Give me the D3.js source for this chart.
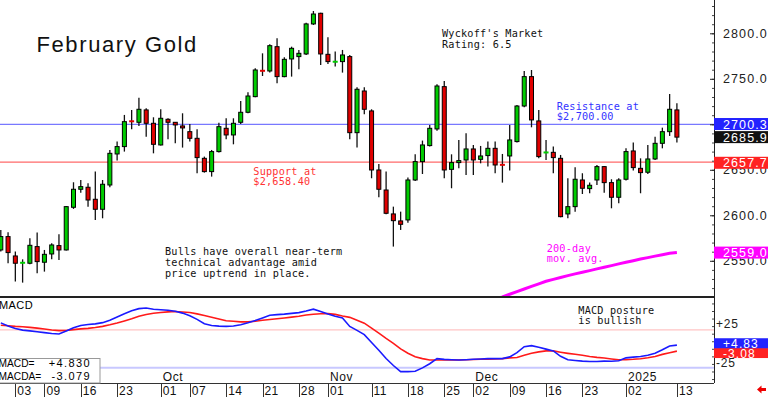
<!DOCTYPE html>
<html><head><meta charset="utf-8">
<script src="https://cdn.jsdelivr.net/npm/d3@7"></script>
<style>
html,body{margin:0;padding:0;background:#fff;}
svg{display:block;}
</style></head><body>
<svg id="c" width="768" height="397"></svg>
<script>
// ---------- DATA ----------
const dates = ["Aug 29","Aug 30","Sep 3","Sep 4","Sep 5","Sep 6","Sep 9","Sep 10","Sep 11","Sep 12","Sep 13","Sep 16","Sep 17","Sep 18","Sep 19","Sep 20","Sep 23","Sep 24","Sep 25","Sep 26","Sep 27","Sep 30","Oct 1","Oct 2","Oct 3","Oct 4","Oct 7","Oct 8","Oct 9","Oct 10","Oct 11","Oct 14","Oct 15","Oct 16","Oct 17","Oct 18","Oct 21","Oct 22","Oct 23","Oct 24","Oct 25","Oct 28","Oct 29","Oct 30","Oct 31","Nov 1","Nov 4","Nov 5","Nov 6","Nov 7","Nov 8","Nov 11","Nov 12","Nov 13","Nov 14","Nov 15","Nov 18","Nov 19","Nov 20","Nov 21","Nov 22","Nov 25","Nov 26","Nov 27","Nov 29","Dec 2","Dec 3","Dec 4","Dec 5","Dec 6","Dec 9","Dec 10","Dec 11","Dec 12","Dec 13","Dec 16","Dec 17","Dec 18","Dec 19","Dec 20","Dec 23","Dec 24","Dec 26","Dec 27","Dec 30","Dec 31","Jan 2","Jan 3","Jan 6","Jan 7","Jan 8","Jan 9","Jan 10","Jan 13"];

const open  = [2561.9,2576.6,2555.3,2547.6,2547.3,2565.6,2548.4,2557.5,2566.7,2561.9,2608.8,2628.6,2630.8,2617.6,2606.6,2633.3,2667.4,2675.5,2704.0,2702.2,2715.8,2701.1,2677.3,2705.5,2702.2,2698.2,2691.9,2684.6,2662.6,2648.0,2670.0,2695.6,2688.3,2702.2,2713.2,2730.4,2759.0,2758.6,2785.3,2752.4,2771.8,2774.4,2777.3,2810.3,2822.0,2776.9,2768.5,2768.9,2774.4,2690.8,2736.6,2714.7,2649.8,2627.8,2601.5,2593.8,2594.9,2638.8,2659.0,2676.6,2694.9,2741.4,2650.5,2657.9,2660.8,2672.9,2661.5,2665.6,2673.6,2655.6,2665.2,2681.0,2720.1,2752.4,2703.7,2668.1,2669.2,2662.6,2601.5,2609.5,2638.8,2629.3,2638.8,2653.5,2635.9,2619.8,2639.6,2670.7,2651.6,2647.3,2661.9,2679.1,2691.9,2715.8];
const high  = [2583.9,2581.3,2560.1,2551.6,2574.7,2581.0,2561.9,2569.2,2579.1,2610.3,2636.3,2638.8,2635.2,2648.0,2638.8,2671.8,2681.0,2710.3,2715.8,2729.3,2717.6,2707.7,2716.5,2706.6,2702.6,2712.1,2700.4,2694.5,2664.5,2671.8,2701.8,2706.6,2706.6,2725.6,2735.2,2761.5,2778.0,2787.9,2794.5,2773.6,2785.3,2781.7,2811.7,2824.5,2822.7,2795.6,2779.9,2781.7,2776.2,2740.7,2740.7,2716.5,2656.4,2648.0,2609.5,2604.0,2641.4,2667.0,2682.1,2699.3,2744.0,2747.6,2667.0,2682.8,2690.1,2677.3,2676.2,2681.0,2681.0,2667.4,2699.3,2721.2,2758.6,2759.7,2715.8,2682.8,2675.5,2666.3,2640.7,2652.7,2646.2,2635.9,2655.3,2654.2,2639.6,2640.7,2673.6,2679.9,2662.6,2677.3,2686.4,2696.3,2733.3,2723.1];
const low   = [2560.1,2547.3,2527.1,2526.0,2546.2,2536.3,2538.1,2551.6,2550.9,2561.2,2607.0,2624.9,2609.5,2594.9,2596.7,2630.8,2660.1,2670.0,2694.5,2698.2,2686.4,2668.1,2676.6,2683.5,2679.1,2674.4,2681.0,2646.2,2646.9,2642.5,2668.9,2683.5,2678.0,2700.4,2712.1,2729.7,2753.1,2756.8,2745.1,2751.6,2752.4,2760.4,2776.2,2809.2,2765.2,2766.3,2763.4,2756.8,2683.5,2674.4,2711.0,2640.7,2619.8,2601.1,2565.6,2583.9,2591.9,2637.7,2645.4,2675.5,2693.0,2640.7,2629.7,2651.6,2644.3,2644.3,2657.1,2653.5,2646.2,2635.9,2649.1,2679.9,2718.7,2696.7,2662.6,2660.8,2646.2,2597.8,2596.7,2604.0,2623.4,2624.2,2633.3,2624.9,2607.7,2613.2,2638.1,2649.1,2624.2,2645.4,2660.8,2673.6,2687.2,2679.9];
const close = [2576.6,2559.0,2547.3,2548.0,2567.0,2549.1,2557.1,2567.4,2561.9,2609.5,2628.6,2631.5,2616.8,2606.6,2634.1,2668.1,2675.5,2702.9,2702.6,2716.5,2701.1,2678.0,2706.6,2702.2,2699.3,2696.0,2684.6,2663.4,2648.0,2670.0,2697.4,2688.3,2701.1,2713.2,2731.1,2759.7,2758.6,2786.4,2752.4,2771.4,2783.5,2778.0,2810.3,2821.2,2777.3,2768.9,2769.0,2776.2,2690.8,2738.5,2716.5,2649.8,2628.6,2602.2,2594.1,2590.1,2638.8,2659.0,2677.3,2695.6,2742.1,2649.8,2657.9,2660.1,2672.9,2660.8,2665.2,2673.6,2655.3,2655.3,2682.8,2720.1,2752.4,2704.8,2664.5,2670.0,2663.4,2598.5,2609.5,2639.6,2629.7,2633.0,2653.5,2635.9,2619.8,2638.8,2670.0,2652.4,2646.9,2661.9,2679.1,2691.9,2716.5,2685.9];

// 200-day moving average, aligned with the last dates
const ma200 = [2507.9,2510.3,2513.2,2516.2,2519.0,2521.9,2524.7,2527.5,2529.6,2531.7,2533.7,2535.6,2537.4,2539.2,2541.1,2542.9,2544.7,2546.6,2548.4,2550.1,2551.9,2553.5,2555.1,2556.6,2558.2,2559.0];

const macd = [34.3,30.2,26.9,24.7,23.7,22.5,21.4,20.2,19.6,23.5,27.7,30.8,32.1,33.0,34.6,37.8,42.0,46.3,50.2,53.1,54.0,52.4,51.7,50.9,49.6,47.2,43.8,38.9,33.1,30.9,30.0,29.6,30.2,31.9,34.4,37.3,40.8,44.3,45.2,45.9,46.9,47.9,50.0,52.4,49.2,45.9,43.0,40.8,29.6,24.4,18.7,8.4,-1.9,-12.9,-22.1,-30.2,-30.2,-29.8,-25.2,-19.8,-13.0,-14.0,-14.5,-14.8,-14.4,-13.9,-13.4,-13.0,-13.0,-13.0,-10.7,-5.1,2.8,4.2,2.0,-0.4,-2.8,-9.9,-14.5,-15.5,-16.3,-16.8,-16.8,-16.3,-16.5,-15.9,-12.0,-11.0,-10.2,-8.5,-5.9,-1.3,3.6,4.83];
const macdSignal = [31.1,30.4,29.6,29.1,28.4,27.4,26.1,24.8,24.1,24.2,25.4,26.3,27.0,28.2,29.7,31.7,34.0,36.9,39.7,43.1,45.3,47.1,48.1,48.9,49.3,48.7,48.1,46.2,44.1,41.7,39.3,37.0,36.5,35.6,35.6,36.5,37.8,38.7,39.7,40.8,41.9,43.1,44.8,45.8,46.3,46.5,45.5,43.3,41.6,37.9,33.9,27.3,20.8,13.7,7.1,-0.2,-5.9,-10.6,-13.0,-14.8,-14.8,-14.8,-14.8,-14.8,-14.5,-14.2,-13.8,-13.6,-13.3,-13.0,-12.0,-11.5,-8.6,-5.9,-4.1,-2.8,-2.8,-4.5,-6.0,-7.3,-8.6,-10.1,-11.3,-12.2,-13.4,-14.5,-14.4,-13.9,-13.1,-11.8,-10.1,-7.4,-5.1,-3.079];

const priceTicks = [2550,2600,2650,2700,2750,2800];
const macdTicks = [25,-25];
const macdTickLabels = ["+25","-25"];
const dayTicks = ["Sep 3","Sep 9","Sep 16","Sep 23","Oct 1","Oct 7","Oct 14","Oct 21","Oct 28","Nov 1","Nov 11","Nov 18","Nov 25","Dec 2","Dec 9","Dec 16","Dec 23","Jan 2","Jan 13"];
const monthTicks = ["Oct 1","Nov 1","Dec 2","Jan 2"];
const monthLabels = ["Oct","Nov","Dec","2025"];

const resistance = 2700.00;
const support = 2658.40;
const priceBoxValues = [2700.3, 2685.9, 2657.7, 2559.0];
const macdBoxValues = [-3.079, 4.830];

// ---------- DRAW ----------
const svg = d3.select("#c");
const W = 768, AX = 714;
const mainTop = 0, mainBot = 297, macdTop = 299, macdBot = 383;

const x = d3.scalePoint().domain(dates).range([0.8, 676.9]);
const y = d3.scaleLinear().domain([2510.2, 2836.6]).range([mainBot, mainTop]);
const my = d3.scaleLinear().domain([-25, 25]).range([367.7, 329.9]);

const defs = svg.append("defs");
defs.append("clipPath").attr("id","clipMain").append("rect").attr("x",0).attr("y",0).attr("width",AX).attr("height",mainBot);
defs.append("clipPath").attr("id","clipMacd").append("rect").attr("x",0).attr("y",macdTop).attr("width",AX).attr("height",macdBot-macdTop);

const monoFont = "'DejaVu Sans Mono', monospace";
const sansFont = "'Liberation Sans', Arial, sans-serif";

// main panel
const gMain = svg.append("g").attr("clip-path","url(#clipMain)");

// support / resistance lines
gMain.append("line").attr("x1",0).attr("x2",AX).attr("y1",y(resistance)).attr("y2",y(resistance))
  .attr("stroke","#7878ff").attr("stroke-width",1.2);
gMain.append("line").attr("x1",0).attr("x2",AX).attr("y1",y(support)).attr("y2",y(support))
  .attr("stroke","#ff6a6a").attr("stroke-width",1.2);

// 200-day MA
const maOffset = dates.length - ma200.length;
gMain.append("path").datum(ma200)
  .attr("fill","none").attr("stroke","#ff00ff").attr("stroke-width",3)
  .attr("d", d3.line().x((d,i)=>x(dates[maOffset+i])).y(d=>y(d)));

// candles
const bw = 5;
const candles = dates.map((d,i)=>({d, o:open[i], h:high[i], l:low[i], c:close[i]}));
const cg = gMain.selectAll("g.candle").data(candles).join("g").attr("class","candle");
cg.append("line")
  .attr("x1",d=>x(d.d)).attr("x2",d=>x(d.d))
  .attr("y1",d=>y(d.h)).attr("y2",d=>y(d.l))
  .attr("stroke","#111").attr("stroke-width",1.3);
cg.each(function(d){
  const g = d3.select(this);
  const up = d.c >= d.o;
  const col = up ? "#00cc00" : "#e00000";
  const top = y(Math.max(d.o,d.c)), bot = y(Math.min(d.o,d.c));
  if (bot - top < 2) {
    g.append("rect").attr("x",x(d.d)-bw/2).attr("y",(top+bot)/2-1).attr("width",bw).attr("height",2).attr("fill",col);
  } else {
    g.append("rect").attr("x",x(d.d)-bw/2+0.5).attr("y",top).attr("width",bw-1).attr("height",bot-top)
      .attr("fill",col).attr("stroke","#000").attr("stroke-width",1);
  }
});

// panel separator
svg.append("line").attr("x1",0).attr("x2",AX).attr("y1",297).attr("y2",297).attr("stroke","#222").attr("stroke-width",2);

// MACD panel
const gM = svg.append("g").attr("clip-path","url(#clipMacd)");
gM.append("line").attr("x1",0).attr("x2",AX).attr("y1",my(25)).attr("y2",my(25)).attr("stroke","#ffc4c4").attr("stroke-width",1.2);
gM.append("line").attr("x1",0).attr("x2",AX).attr("y1",my(-25)).attr("y2",my(-25)).attr("stroke","#c8c8ff").attr("stroke-width",2);
const mline = d3.line().x((d,i)=>x(dates[i])).y(d=>my(d));
gM.append("path").datum(macdSignal).attr("fill","none").attr("stroke","#ff1a1a").attr("stroke-width",1.6).attr("d",mline);
gM.append("path").datum(macd).attr("fill","none").attr("stroke","#1a1aff").attr("stroke-width",1.6).attr("d",mline);

svg.append("text").attr("x",-1).attr("y",305).attr("dy","0.35em")
  .attr("font-family",sansFont).attr("font-size",11).attr("letter-spacing",0.4).text("MACD");

// date axis row
svg.append("line").attr("x1",0).attr("x2",AX).attr("y1",383.5).attr("y2",383.5).attr("stroke","#333").attr("stroke-width",1);
const dt = svg.append("g");
dt.selectAll("line").data(dayTicks).join("line")
  .attr("x1",d=>Math.round(x(d))+0.5).attr("x2",d=>Math.round(x(d))+0.5).attr("y1",383.5).attr("y2",397)
  .attr("stroke","#333").attr("stroke-width",1);
dt.selectAll("text").data(dayTicks).join("text")
  .attr("x",d=>x(d)+2).attr("y",390.5).attr("dy","0.35em")
  .attr("font-family",sansFont).attr("font-size",12).attr("letter-spacing",0.4).attr("fill","#111")
  .text(d=>d.split(" ")[1].padStart(2,"0"));
svg.append("g").selectAll("text").data(monthTicks).join("text")
  .attr("x",d=>x(d)+2).attr("y",377).attr("dy","0.35em")
  .attr("font-family",sansFont).attr("font-size",12).attr("letter-spacing",0.6).attr("fill","#111")
  .text((d,i)=>monthLabels[i]);

// MACD value box
const mb = svg.append("g");
mb.append("rect").attr("x",-1).attr("y",358.5).attr("width",101).attr("height",24.5).attr("fill","#fff").attr("stroke","#999");
const mbRows = [["MACD=", macd[macd.length-1]], ["MACDA=", macdSignal[macdSignal.length-1]]];
mbRows.forEach((r,i)=>{
  mb.append("text").attr("x",-1.5).attr("y",363+i*13).attr("dy","0.35em")
    .attr("font-family",sansFont).attr("font-size",10.2).attr("letter-spacing",0).text(r[0]);
  mb.append("text").attr("x",91).attr("y",363+i*13).attr("dy","0.35em").attr("text-anchor","end")
    .attr("font-family",sansFont).attr("font-size",11).attr("letter-spacing",1.4)
    .text((r[1]>=0?"+":"")+r[1].toFixed(3));
});

// right axis
svg.append("line").attr("x1",AX+0.5).attr("x2",AX+0.5).attr("y1",0).attr("y2",macdBot).attr("stroke","#222").attr("stroke-width",1);
const axisMinor = d3.axisRight(y).tickValues(d3.range(2520, 2840, 10)).tickSizeInner(-2).tickSizeOuter(0).tickFormat("");
const gMinor = svg.append("g").attr("transform",`translate(${AX},0)`).call(axisMinor);
gMinor.select(".domain").remove();
gMinor.selectAll("line").attr("stroke","#444");
const axisMain = d3.axisRight(y).tickValues(priceTicks).tickSizeInner(-4).tickSizeOuter(0).tickPadding(9).tickFormat(d3.format(".1f"));
const gAx = svg.append("g").attr("transform",`translate(${AX},0)`).call(axisMain);
gAx.select(".domain").remove();
gAx.selectAll("text").attr("font-family",sansFont).attr("font-size",12.5).attr("letter-spacing",1.1).attr("fill","#222");
gAx.selectAll("line").attr("stroke","#222");

const axisMacdMinor = d3.axisRight(my).tickValues(d3.range(-60, 70, 10)).tickSizeInner(-2).tickSizeOuter(0).tickFormat("");
const gMm = svg.append("g").attr("transform",`translate(${AX},0)`).call(axisMacdMinor);
gMm.select(".domain").remove();
gMm.selectAll(".tick").filter(d=>my(d)<macdTop||my(d)>macdBot).remove();
gMm.selectAll("line").attr("stroke","#444");
svg.append("g").selectAll("text").data(macdTicks).join("text")
  .attr("x",AX+2).attr("y",d=>my(d)-(d>0?6.5:4.5)).attr("dy","0.35em")
  .attr("font-family",sansFont).attr("font-size",12).attr("letter-spacing",0.8).attr("fill","#222")
  .text((d,i)=>macdTickLabels[i]);

// price value boxes
const priceBoxColors = ["#2222ff","#111111","#ff2222","#ff00ff"];
priceBoxValues.forEach((v,i)=>{
  const cy = y(v);
  svg.append("rect").attr("x",AX).attr("y",cy-6).attr("width",W-AX).attr("height",12).attr("fill",priceBoxColors[i]);
  svg.append("text").attr("x",AX+9).attr("y",cy).attr("dy","0.36em")
    .attr("font-family",sansFont).attr("font-size",12.5).attr("letter-spacing",1.1).attr("fill","#fff")
    .text(d3.format(".1f")(v));
});

// MACD value boxes with simple collision spacing
const mbColors = ["#ff2222","#2222ff"];
let ys = macdBoxValues.map(v=>my(v));
const mid = (ys[0]+ys[1])/2;
if (Math.abs(ys[0]-ys[1]) < 10) { ys = [mid+4.9, mid-4.9]; }
macdBoxValues.forEach((v,i)=>{
  svg.append("rect").attr("x",AX).attr("y",ys[i]-5).attr("width",W-AX).attr("height",10).attr("fill",mbColors[i]);
  svg.append("text").attr("x",AX+9).attr("y",ys[i]+0.5).attr("dy","0.36em")
    .attr("font-family",sansFont).attr("font-size",12).attr("letter-spacing",1.1).attr("fill","#fff")
    .text((v>=0?"+":"")+v.toFixed(2));
});

// red arrow bottom right
svg.append("path").attr("d","M757,389.5 L761.5,385.5 L761.5,388 L766,388 L766,391 L761.5,391 L761.5,393.5 Z").attr("fill","#ee0000");

// title and annotations
svg.append("text").attr("x",36.5).attr("y",51.7)
  .attr("font-family",sansFont).attr("font-size",22).attr("letter-spacing",1.6).attr("fill","#111")
  .text("February Gold");

const notes = [
  {lines:["Wyckoff's Market","Rating: 6.5"], x:442, y:33.3, lh:10.7, c:"#111"},
  {lines:["Resistance at","$2,700.00"], x:556.7, y:106.3, lh:10.6, c:"#3333ff"},
  {lines:["Support at","$2,658.40"], x:253.3, y:171.5, lh:10.4, c:"#ff3333"},
  {lines:["Bulls have overall near-term","technical advantage amid","price uptrend in place."], x:165, y:251.7, lh:10.8, c:"#111"},
  {lines:["200-day","mov. avg."], x:546.7, y:248.3, lh:10.2, c:"#ff00ff"},
  {lines:["MACD posture","is bullish"], x:578.3, y:310.3, lh:10.4, c:"#111"}
];
notes.forEach(n=>{
  n.lines.forEach((t,i)=>{
    svg.append("text").attr("x",n.x).attr("y",n.y+i*n.lh).attr("dy","0.35em")
      .attr("font-family",monoFont).attr("font-size",10.2).attr("letter-spacing",0.2).attr("fill",n.c)
      .text(t);
  });
});
</script>
</body></html>
